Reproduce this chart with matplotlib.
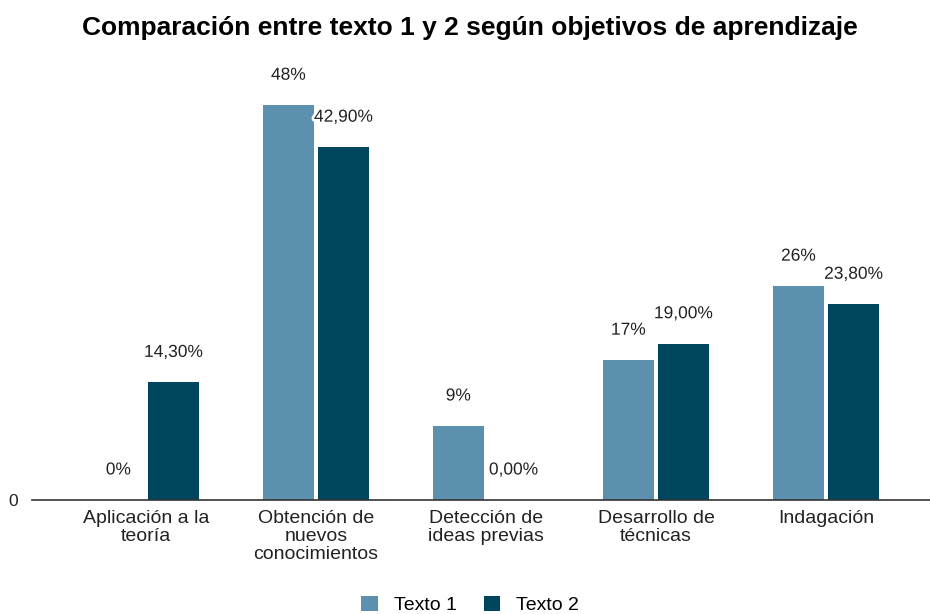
import matplotlib
matplotlib.use("Agg")
import matplotlib.pyplot as plt
import matplotlib.patheffects as pe
import numpy as np

categories = ["Aplicación a la\nteoría", "Obtención de\nnuevos\nconocimientos",
              "Detección de\nideas previas", "Desarrollo de\ntécnicas", "Indagación"]
texto1 = [0, 48, 9, 17, 26]
texto2 = [14.3, 42.9, 0, 19, 23.8]
labels1 = ["0%", "48%", "9%", "17%", "26%"]
labels2 = ["14,30%", "42,90%", "0,00%", "19,00%", "23,80%"]
series_names = ["Texto 1", "Texto 2"]
colors = ["#5b91ae", "#00465f"]

plt.rcParams['font.family'] = ['Liberation Sans', 'DejaVu Sans']

fig = plt.figure(figsize=(9.3, 6.14), dpi=100)
ax = fig.add_axes([32/930, 1 - 500/614, (930-32)/930, (500-60)/614])

x = np.arange(len(categories))
w = 0.30
off = 0.162
b1 = ax.bar(x - off, texto1, w, color=colors[0], label=series_names[0])
b2 = ax.bar(x + off, texto2, w, color=colors[1], label=series_names[1])

halo = [pe.withStroke(linewidth=4, foreground="white")]
for bars, labs in ((b1, labels1), (b2, labels2)):
    for r, lab in zip(bars, labs):
        ax.annotate(lab, (r.get_x() + r.get_width()/2, r.get_height()),
                    xytext=(0, 21.6), textcoords="offset points",
                    ha="center", va="center", fontsize=12.5, color="#222222",
                    path_effects=halo)

ax.set_xlim(-0.670, 4.612)
ax.set_ylim(0, 53.5)
ax.set_xticks(x)
ax.set_xticklabels(categories, fontsize=14, color="#222222", linespacing=1.1)
ax.tick_params(axis="x", length=0, pad=7)
ax.set_yticks([0])
ax.set_yticklabels(["0"], fontsize=12.5, color="#222222")
ax.tick_params(axis="y", length=0, pad=10)
for s in ["top", "right", "left"]:
    ax.spines[s].set_visible(False)
ax.spines["bottom"].set_color("#333333")
ax.spines["bottom"].set_linewidth(1.2)

fig.text(470/930, 1 - 28/614, "Comparación entre texto 1 y 2 según objetivos de aprendizaje",
         ha="center", va="center", fontsize=19, fontweight="bold", color="#000000")

fig.legend(loc="center", bbox_to_anchor=(470/930, 1 - 605/614), ncol=2, frameon=False,
           fontsize=14, handlelength=0.85, handleheight=0.85, columnspacing=1.4,
           handletextpad=0.8)

fig.savefig("out.png", dpi=100)
